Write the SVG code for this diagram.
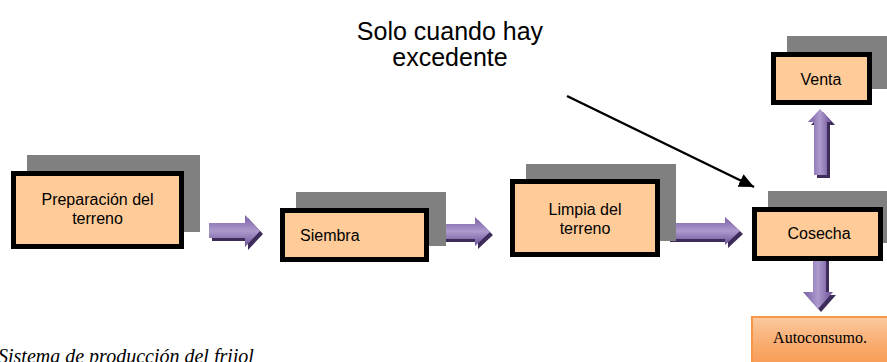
<svg xmlns="http://www.w3.org/2000/svg" width="887" height="362" viewBox="0 0 887 362">
<style>
.shadow{fill:#808080;}
.box{fill:#FFCC99;stroke:#000;stroke-width:5;}
.lbl{font-family:"Liberation Sans",Arial,sans-serif;font-size:16px;fill:#000;text-anchor:middle;}
.note{font-family:"Liberation Sans",Arial,sans-serif;font-size:25px;fill:#000;text-anchor:middle;}
.cap{font-family:"Liberation Serif","Times New Roman",serif;font-size:20px;font-style:italic;fill:#000;}
.ash{fill:#3D2B5A;}
.ah{fill:url(#gh);}
.av{fill:url(#gv);}
.auto{font-family:"Liberation Serif","Times New Roman",serif;font-size:16px;fill:#000;text-anchor:middle;}
</style>
<defs>
<linearGradient id="gh" x1="0" y1="0" x2="0" y2="1">
<stop offset="0" stop-color="#7A5DA6"/>
<stop offset="0.5" stop-color="#AC9BCD"/>
<stop offset="1" stop-color="#6A4E95"/>
</linearGradient>
<linearGradient id="gv" x1="0" y1="0" x2="1" y2="0">
<stop offset="0" stop-color="#7A5DA6"/>
<stop offset="0.5" stop-color="#AC9BCD"/>
<stop offset="1" stop-color="#6A4E95"/>
</linearGradient>
<linearGradient id="go" x1="0" y1="0" x2="0" y2="1">
<stop offset="0" stop-color="#FBC9A0"/>
<stop offset="0.5" stop-color="#F9AE72"/>
<stop offset="1" stop-color="#F79A52"/>
</linearGradient>
<marker id="arr" markerWidth="15" markerHeight="14" refX="15" refY="7" orient="auto" markerUnits="userSpaceOnUse">
<path d="M0,0 L15,7 L0,14 z" fill="#000"/>
</marker>
</defs>

<g id="connectors">
<path class="ash" d="M212,226 H248 V218 L263,234 L248,250 V241 H212 z"/>
<path class="ah" d="M209,223 H245 V215 L260,231 L245,247 V238 H209 z"/>
<path class="ash" d="M442,227 H478 V220 L493,235 L478,249 V242 H442 z"/>
<path class="ah" d="M439,224 H475 V217 L490,232 L475,246 V239 H439 z"/>
<path class="ash" d="M670,226 H728 V220 L743,234 L728,248 V242 H670 z"/>
<path class="ah" d="M667,223 H725 V217 L740,231 L725,245 V239 H667 z"/>
<path class="ash" d="M817,178 V125 H811 L823,112 L835,125 H830 V178 z"/>
<path class="av" d="M814,175 V122 H808 L820,109 L832,122 H827 V175 z"/>
<path class="ash" d="M816,259 V295 H806 L821,312 L836,295 H829 V259 z"/>
<path class="av" d="M813,256 V292 H803 L818,309 L833,292 H826 V256 z"/>
<line x1="567" y1="96" x2="754" y2="187" stroke="#000" stroke-width="2.5" marker-end="url(#arr)"/>
</g>

<g id="node-preparacion">
<rect class="shadow" x="27" y="155" width="173" height="77"/>
<rect class="box" x="13.5" y="173.5" width="168" height="73"/>
<text class="lbl" x="97.5" y="205">Preparación del</text>
<text class="lbl" x="97.5" y="224">terreno</text>
</g>

<g id="node-siembra">
<rect class="shadow" x="296" y="192" width="150" height="54"/>
<rect class="box" x="282.5" y="210.5" width="144" height="49"/>
<text class="lbl" x="300" y="241" style="text-anchor:start">Siembra</text>
</g>

<g id="node-limpia">
<rect class="shadow" x="526" y="164" width="150" height="77"/>
<rect class="box" x="512.5" y="181.5" width="145" height="73"/>
<text class="lbl" x="585" y="215">Limpia del</text>
<text class="lbl" x="585" y="234">terreno</text>
</g>

<g id="node-cosecha">
<rect class="shadow" x="768" y="191" width="122" height="52"/>
<rect class="box" x="754.5" y="209.5" width="126" height="49"/>
<text class="lbl" x="819" y="239">Cosecha</text>
</g>

<g id="node-venta">
<rect class="shadow" x="787" y="36" width="103" height="53"/>
<rect class="box" x="773.5" y="54.5" width="96" height="48"/>
<text class="lbl" x="821" y="85">Venta</text>
</g>

<g id="node-autoconsumo">
<rect x="752" y="317" width="140" height="50" fill="url(#go)" stroke="#F79646" stroke-width="2"/>
<text class="auto" x="820" y="343">Autoconsumo.</text>
</g>

<g id="note">
<text class="note" x="450" y="40">Solo cuando hay</text>
<text class="note" x="450" y="66">excedente</text>
</g>

<g id="caption">
<text class="cap" x="-2" y="363">Sistema de producción del frijol</text>
</g>
</svg>
